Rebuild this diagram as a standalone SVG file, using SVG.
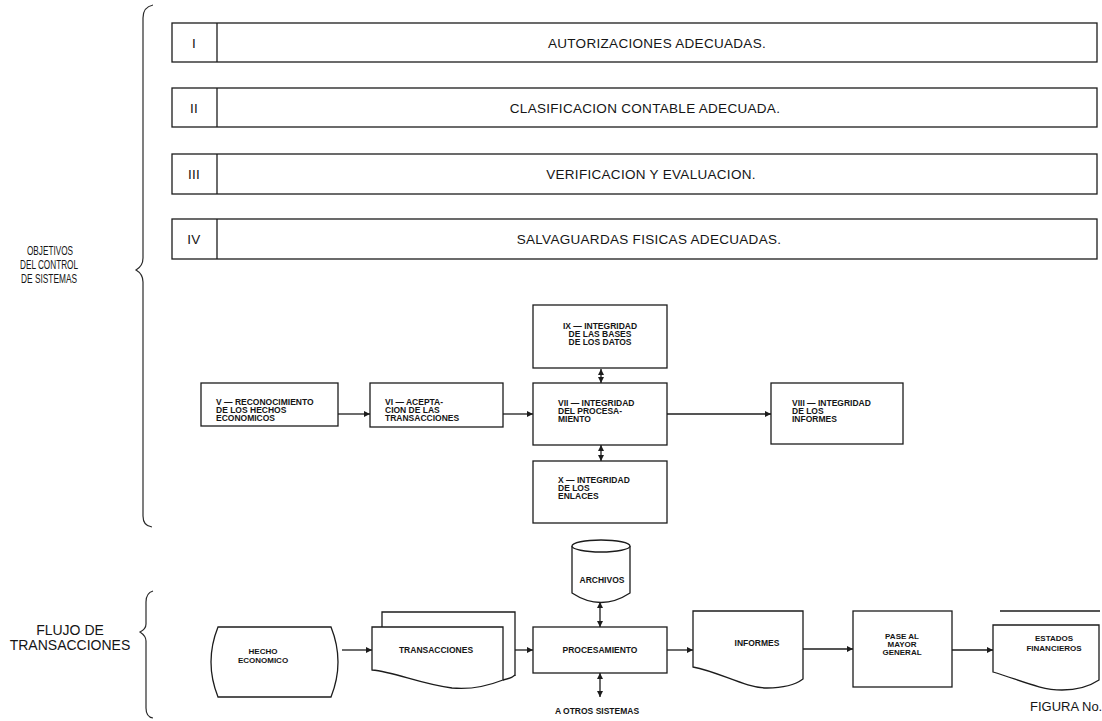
<svg xmlns="http://www.w3.org/2000/svg" width="1102" height="721" viewBox="0 0 1102 721">
  <defs>
    <style>
      .box { fill: #fff; stroke: #1c1c1c; stroke-width: 1.3; }
      .ln { fill: none; stroke: #1c1c1c; stroke-width: 1.3; }
      .br { fill: none; stroke: #2a2a2a; stroke-width: 1.2; }
      .big { font-family: "Liberation Sans", Arial, sans-serif; font-size: 13.5px; letter-spacing: 0.3px; fill: #151515; }
      .side { font-family: "Liberation Sans", Arial, sans-serif; font-size: 13px; fill: #151515; }
      .sm { font-family: "Liberation Sans", Arial, sans-serif; font-size: 8.5px; font-weight: bold; fill: #151515; }
      .xs { font-family: "Liberation Sans", Arial, sans-serif; font-size: 8px; font-weight: bold; fill: #151515; }
      .mid { text-anchor: middle; }
    </style>
    <marker id="ah" viewBox="0 0 6 6" refX="6" refY="3" markerWidth="6" markerHeight="6" markerUnits="userSpaceOnUse" orient="auto-start-reverse">
      <path d="M0,0 L6,3 L0,6 z" fill="#1c1c1c"/>
    </marker>
  </defs>

  <rect width="1102" height="721" fill="#fff"/>

  <!-- braces and side labels -->
  <g id="brace-objetivos">
    <path class="br" d="M153,5 Q143,7 143,18 L143,258 Q143,266 136,270 Q143,274 143,282 L143,516 Q143,526 152,527"/>
    <text class="side mid" x="50" y="255" textLength="46" lengthAdjust="spacingAndGlyphs">OBJETIVOS</text>
    <text class="side mid" x="49" y="269" textLength="58" lengthAdjust="spacingAndGlyphs">DEL CONTROL</text>
    <text class="side mid" x="49" y="283" textLength="56" lengthAdjust="spacingAndGlyphs">DE SISTEMAS</text>
  </g>
  <g id="brace-flujo">
    <path class="br" d="M153,591 Q146,593 146,602 L146,624 Q146,629 140,632 Q146,636 146,641 L146,708 Q146,717 153,718"/>
    <text class="side mid" x="70" y="635" style="font-size:14px">FLUJO DE</text>
    <text class="side mid" x="70" y="650" style="font-size:14px">TRANSACCIONES</text>
  </g>

  <!-- objective rows -->
  <g id="row-I">
    <rect class="box" x="172" y="23" width="925" height="39"/>
    <line class="ln" x1="217" y1="23" x2="217" y2="62"/>
    <text class="big mid" x="194" y="48">I</text>
    <text class="big mid" x="657" y="48">AUTORIZACIONES ADECUADAS.</text>
  </g>
  <g id="row-II">
    <rect class="box" x="172" y="88" width="925" height="39"/>
    <line class="ln" x1="217" y1="88" x2="217" y2="127"/>
    <text class="big mid" x="194" y="113">II</text>
    <text class="big mid" x="645" y="113">CLASIFICACION CONTABLE ADECUADA.</text>
  </g>
  <g id="row-III">
    <rect class="box" x="172" y="154" width="925" height="40"/>
    <line class="ln" x1="217" y1="154" x2="217" y2="194"/>
    <text class="big mid" x="194" y="179">III</text>
    <text class="big mid" x="651" y="179">VERIFICACION Y EVALUACION.</text>
  </g>
  <g id="row-IV">
    <rect class="box" x="172" y="219" width="925" height="40"/>
    <line class="ln" x1="217" y1="219" x2="217" y2="259"/>
    <text class="big mid" x="194" y="244">IV</text>
    <text class="big mid" x="649" y="244">SALVAGUARDAS FISICAS ADECUADAS.</text>
  </g>

  <!-- control objectives V - X -->
  <g id="obj-V">
    <rect class="box" x="201" y="383" width="137" height="43"/>
    <text class="sm" x="216" y="405">V — RECONOCIMIENTO</text>
    <text class="sm" x="216" y="413">DE LOS HECHOS</text>
    <text class="sm" x="216" y="421">ECONOMICOS</text>
  </g>
  <g id="obj-VI">
    <rect class="box" x="370" y="383" width="133" height="44"/>
    <text class="sm" x="385" y="405">VI — ACEPTA-</text>
    <text class="sm" x="385" y="413">CION DE LAS</text>
    <text class="sm" x="385" y="421">TRANSACCIONES</text>
  </g>
  <g id="obj-VII">
    <rect class="box" x="533" y="383" width="134" height="62"/>
    <text class="sm" x="558" y="406">VII — INTEGRIDAD</text>
    <text class="sm" x="558" y="414">DEL PROCESA-</text>
    <text class="sm" x="558" y="422">MIENTO</text>
  </g>
  <g id="obj-IX">
    <rect class="box" x="533" y="305" width="134" height="63"/>
    <text class="sm mid" x="600" y="329">IX — INTEGRIDAD</text>
    <text class="sm mid" x="600" y="337">DE LAS BASES</text>
    <text class="sm mid" x="600" y="345">DE LOS DATOS</text>
  </g>
  <g id="obj-X">
    <rect class="box" x="533" y="461" width="134" height="62"/>
    <text class="sm" x="558" y="483">X — INTEGRIDAD</text>
    <text class="sm" x="558" y="491">DE LOS</text>
    <text class="sm" x="558" y="499">ENLACES</text>
  </g>
  <g id="obj-VIII">
    <rect class="box" x="771" y="383" width="132" height="61"/>
    <text class="sm" x="792" y="406">VIII — INTEGRIDAD</text>
    <text class="sm" x="792" y="414">DE LOS</text>
    <text class="sm" x="792" y="422">INFORMES</text>
  </g>

  <!-- transaction flow -->
  <g id="flow-hecho">
    <path class="ln" d="M218,627 L331,627 Q345,662 331,697 L218,697 Q204,662 218,627 Z"/>
    <text class="xs mid" x="263" y="654">HECHO</text>
    <text class="xs mid" x="263" y="663">ECONOMICO</text>
  </g>
  <g id="flow-transacciones">
    <path class="box" d="M382,627 L382,612 L515,612 L515,676"/>
    <path class="box" d="M372,627 L503,627 L503,680 C480,689 462,689 452,688 C420,684 395,672 372,670 Z"/>
    <path class="ln" d="M503,680 C508,679 512,678 515,675"/>
    <text class="sm mid" x="436" y="653">TRANSACCIONES</text>
  </g>
  <g id="flow-archivos">
    <path class="box" d="M572,546 L572,593 Q601,612 630,593 L630,546"/>
    <ellipse class="box" cx="601" cy="546" rx="29" ry="6"/>
    <text class="sm mid" x="602" y="583">ARCHIVOS</text>
  </g>
  <g id="flow-procesamiento">
    <rect class="box" x="533" y="627" width="134" height="46"/>
    <text class="sm mid" x="600" y="653">PROCESAMIENTO</text>
  </g>
  <g id="flow-otros">
    <text class="sm mid" x="597" y="714">A OTROS SISTEMAS</text>
  </g>
  <g id="flow-informes">
    <path class="box" d="M693,667 L693,611 L803,611 L803,679 C795,685 785,688 767,688 C745,688 720,672 693,667 Z"/>
    <text class="sm mid" x="757" y="646">INFORMES</text>
  </g>
  <g id="flow-pase">
    <rect class="box" x="853" y="611" width="99" height="76"/>
    <text class="xs mid" x="902" y="639">PASE AL</text>
    <text class="xs mid" x="902" y="647">MAYOR</text>
    <text class="xs mid" x="902" y="655">GENERAL</text>
  </g>
  <g id="flow-estados">
    <line class="ln" x1="1000" y1="611" x2="1100" y2="611"/>
    <path class="box" d="M993,672 L993,625 L1099,625 L1099,680 C1090,686 1080,690 1062,690 C1040,690 1020,680 993,672 Z"/>
    <text class="xs mid" x="1054" y="641">ESTADOS</text>
    <text class="xs mid" x="1054" y="651">FINANCIEROS</text>
  </g>

  <!-- connectors -->
  <g id="connectors">
    <line class="ln" x1="338" y1="414" x2="370" y2="414" marker-end="url(#ah)"/>
    <line class="ln" x1="503" y1="414" x2="533" y2="414" marker-end="url(#ah)"/>
    <line class="ln" x1="667" y1="414" x2="771" y2="414" marker-end="url(#ah)"/>
    <line class="ln" x1="601" y1="369" x2="601" y2="383" marker-start="url(#ah)" marker-end="url(#ah)"/>
    <line class="ln" x1="601" y1="445" x2="601" y2="461" marker-start="url(#ah)" marker-end="url(#ah)"/>
    <line class="ln" x1="342" y1="650" x2="372" y2="650" marker-end="url(#ah)"/>
    <line class="ln" x1="515" y1="650" x2="533" y2="650" marker-end="url(#ah)"/>
    <line class="ln" x1="600" y1="602" x2="600" y2="627" marker-start="url(#ah)" marker-end="url(#ah)"/>
    <line class="ln" x1="600" y1="673" x2="600" y2="697" marker-start="url(#ah)" marker-end="url(#ah)"/>
    <line class="ln" x1="667" y1="650" x2="693" y2="650" marker-end="url(#ah)"/>
    <line class="ln" x1="803" y1="649" x2="853" y2="649" marker-end="url(#ah)"/>
    <line class="ln" x1="952" y1="650" x2="993" y2="650" marker-end="url(#ah)"/>
  </g>

  <text class="side" x="1030" y="711">FIGURA No.</text>
</svg>
